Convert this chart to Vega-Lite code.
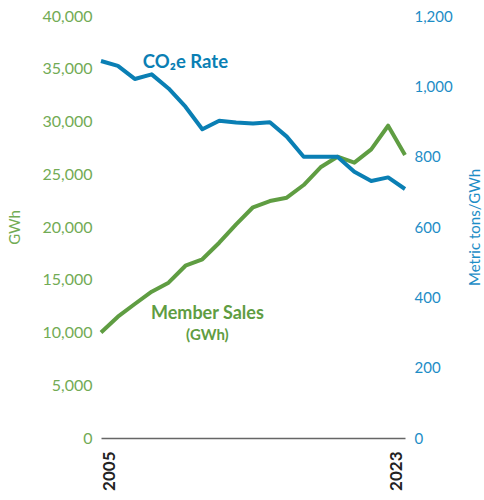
{
  "$schema": "https://vega.github.io/schema/vega-lite/v6.json",
  "width": 304,
  "height": 422,
  "autosize": "none",
  "padding": {"left": 101, "top": 16, "right": 79, "bottom": 62},
  "config": {
    "font": "Lato",
    "view": {"stroke": null},
    "axis": {"grid": false, "ticks": false, "tickSize": 0}
  },
  "layer": [
    {
      "layer": [
        {
          "data": {"values": [
            {"year": 2005, "GWh": 10000}, {"year": 2006, "GWh": 11500}, {"year": 2007, "GWh": 12700},
            {"year": 2008, "GWh": 13870}, {"year": 2009, "GWh": 14720}, {"year": 2010, "GWh": 16330},
            {"year": 2011, "GWh": 16940}, {"year": 2012, "GWh": 18510}, {"year": 2013, "GWh": 20250},
            {"year": 2014, "GWh": 21870}, {"year": 2015, "GWh": 22460}, {"year": 2016, "GWh": 22780},
            {"year": 2017, "GWh": 23980}, {"year": 2018, "GWh": 25660}, {"year": 2019, "GWh": 26660},
            {"year": 2020, "GWh": 26100}, {"year": 2021, "GWh": 27360}, {"year": 2022, "GWh": 29600},
            {"year": 2023, "GWh": 26820}
          ]},
          "mark": {"type": "line", "color": "#5f9d42", "strokeWidth": 4, "strokeJoin": "round"},
          "encoding": {
            "x": {
              "field": "year", "type": "quantitative",
              "scale": {"domain": [2005, 2023], "nice": false, "zero": false},
              "axis": {
                "values": [2005, 2023], "format": "d", "title": null,
                "labelAngle": -90, "labelAlign": "right",
                "labelBaseline": {"condition": {"test": "datum.value == 2005", "value": "top"}, "value": "bottom"},
                "labelFontWeight": "bold", "labelFontSize": 17, "labelColor": "#222222",
                "labelPadding": 13, "domainColor": "#666666", "domainWidth": 1.5
              }
            },
            "y": {
              "field": "GWh", "type": "quantitative",
              "scale": {"domain": [0, 40000], "nice": false},
              "axis": {
                "orient": "left", "values": [0, 5000, 10000, 15000, 20000, 25000, 30000, 35000, 40000],
                "format": ",.0f", "domain": false, "labelColor": "#72ab55", "labelFontSize": 16,
                "labelPadding": 9, "title": "GWh", "titleColor": "#72ab55", "titleFontSize": 15,
                "titleFontWeight": "normal", "titlePadding": 19
              }
            }
          }
        },
        {
          "data": {"values": [{"year": 2011.3, "GWh": 11750, "label": "Member Sales"}]},
          "mark": {"type": "text", "fontWeight": "bold", "fontSize": 18, "color": "#5f9d42", "baseline": "middle"},
          "encoding": {
            "x": {"field": "year", "type": "quantitative"},
            "y": {"field": "GWh", "type": "quantitative"},
            "text": {"field": "label"}
          }
        },
        {
          "data": {"values": [{"year": 2011.3, "GWh": 9760, "label": "(GWh)"}]},
          "mark": {"type": "text", "fontWeight": "bold", "fontSize": 15, "color": "#5f9d42", "baseline": "middle"},
          "encoding": {
            "x": {"field": "year", "type": "quantitative"},
            "y": {"field": "GWh", "type": "quantitative"},
            "text": {"field": "label"}
          }
        }
      ]
    },
    {
      "layer": [
        {
          "data": {"values": [
            {"year": 2005, "rate": 1072}, {"year": 2006, "rate": 1058}, {"year": 2007, "rate": 1021},
            {"year": 2008, "rate": 1034}, {"year": 2009, "rate": 994}, {"year": 2010, "rate": 942},
            {"year": 2011, "rate": 878}, {"year": 2012, "rate": 902}, {"year": 2013, "rate": 897},
            {"year": 2014, "rate": 894}, {"year": 2015, "rate": 898}, {"year": 2016, "rate": 857},
            {"year": 2017, "rate": 800}, {"year": 2018, "rate": 800}, {"year": 2019, "rate": 800},
            {"year": 2020, "rate": 757}, {"year": 2021, "rate": 731}, {"year": 2022, "rate": 741},
            {"year": 2023, "rate": 708}
          ]},
          "mark": {"type": "line", "color": "#0a7fb4", "strokeWidth": 4, "strokeJoin": "round"},
          "encoding": {
            "x": {"field": "year", "type": "quantitative"},
            "y": {
              "field": "rate", "type": "quantitative",
              "scale": {"domain": [0, 1200], "nice": false},
              "axis": {
                "orient": "right", "values": [0, 200, 400, 600, 800, 1000, 1200],
                "format": ",.0f", "domain": false, "labelColor": "#1d8dc6", "labelFontSize": 15,
                "labelPadding": 9, "title": "Metric tons/GWh", "titleColor": "#1d8dc6", "titleFontSize": 15,
                "titleFontWeight": "normal", "titlePadding": 30, "titleAngle": 270
              }
            }
          }
        },
        {
          "data": {"values": [{"year": 2010.0, "rate": 1069, "label": "CO₂e Rate"}]},
          "mark": {"type": "text", "fontWeight": "bold", "fontSize": 18.5, "color": "#0a7fb4", "baseline": "middle"},
          "encoding": {
            "x": {"field": "year", "type": "quantitative"},
            "y": {"field": "rate", "type": "quantitative"},
            "text": {"field": "label"}
          }
        }
      ]
    }
  ],
  "resolve": {"scale": {"y": "independent"}}
}
